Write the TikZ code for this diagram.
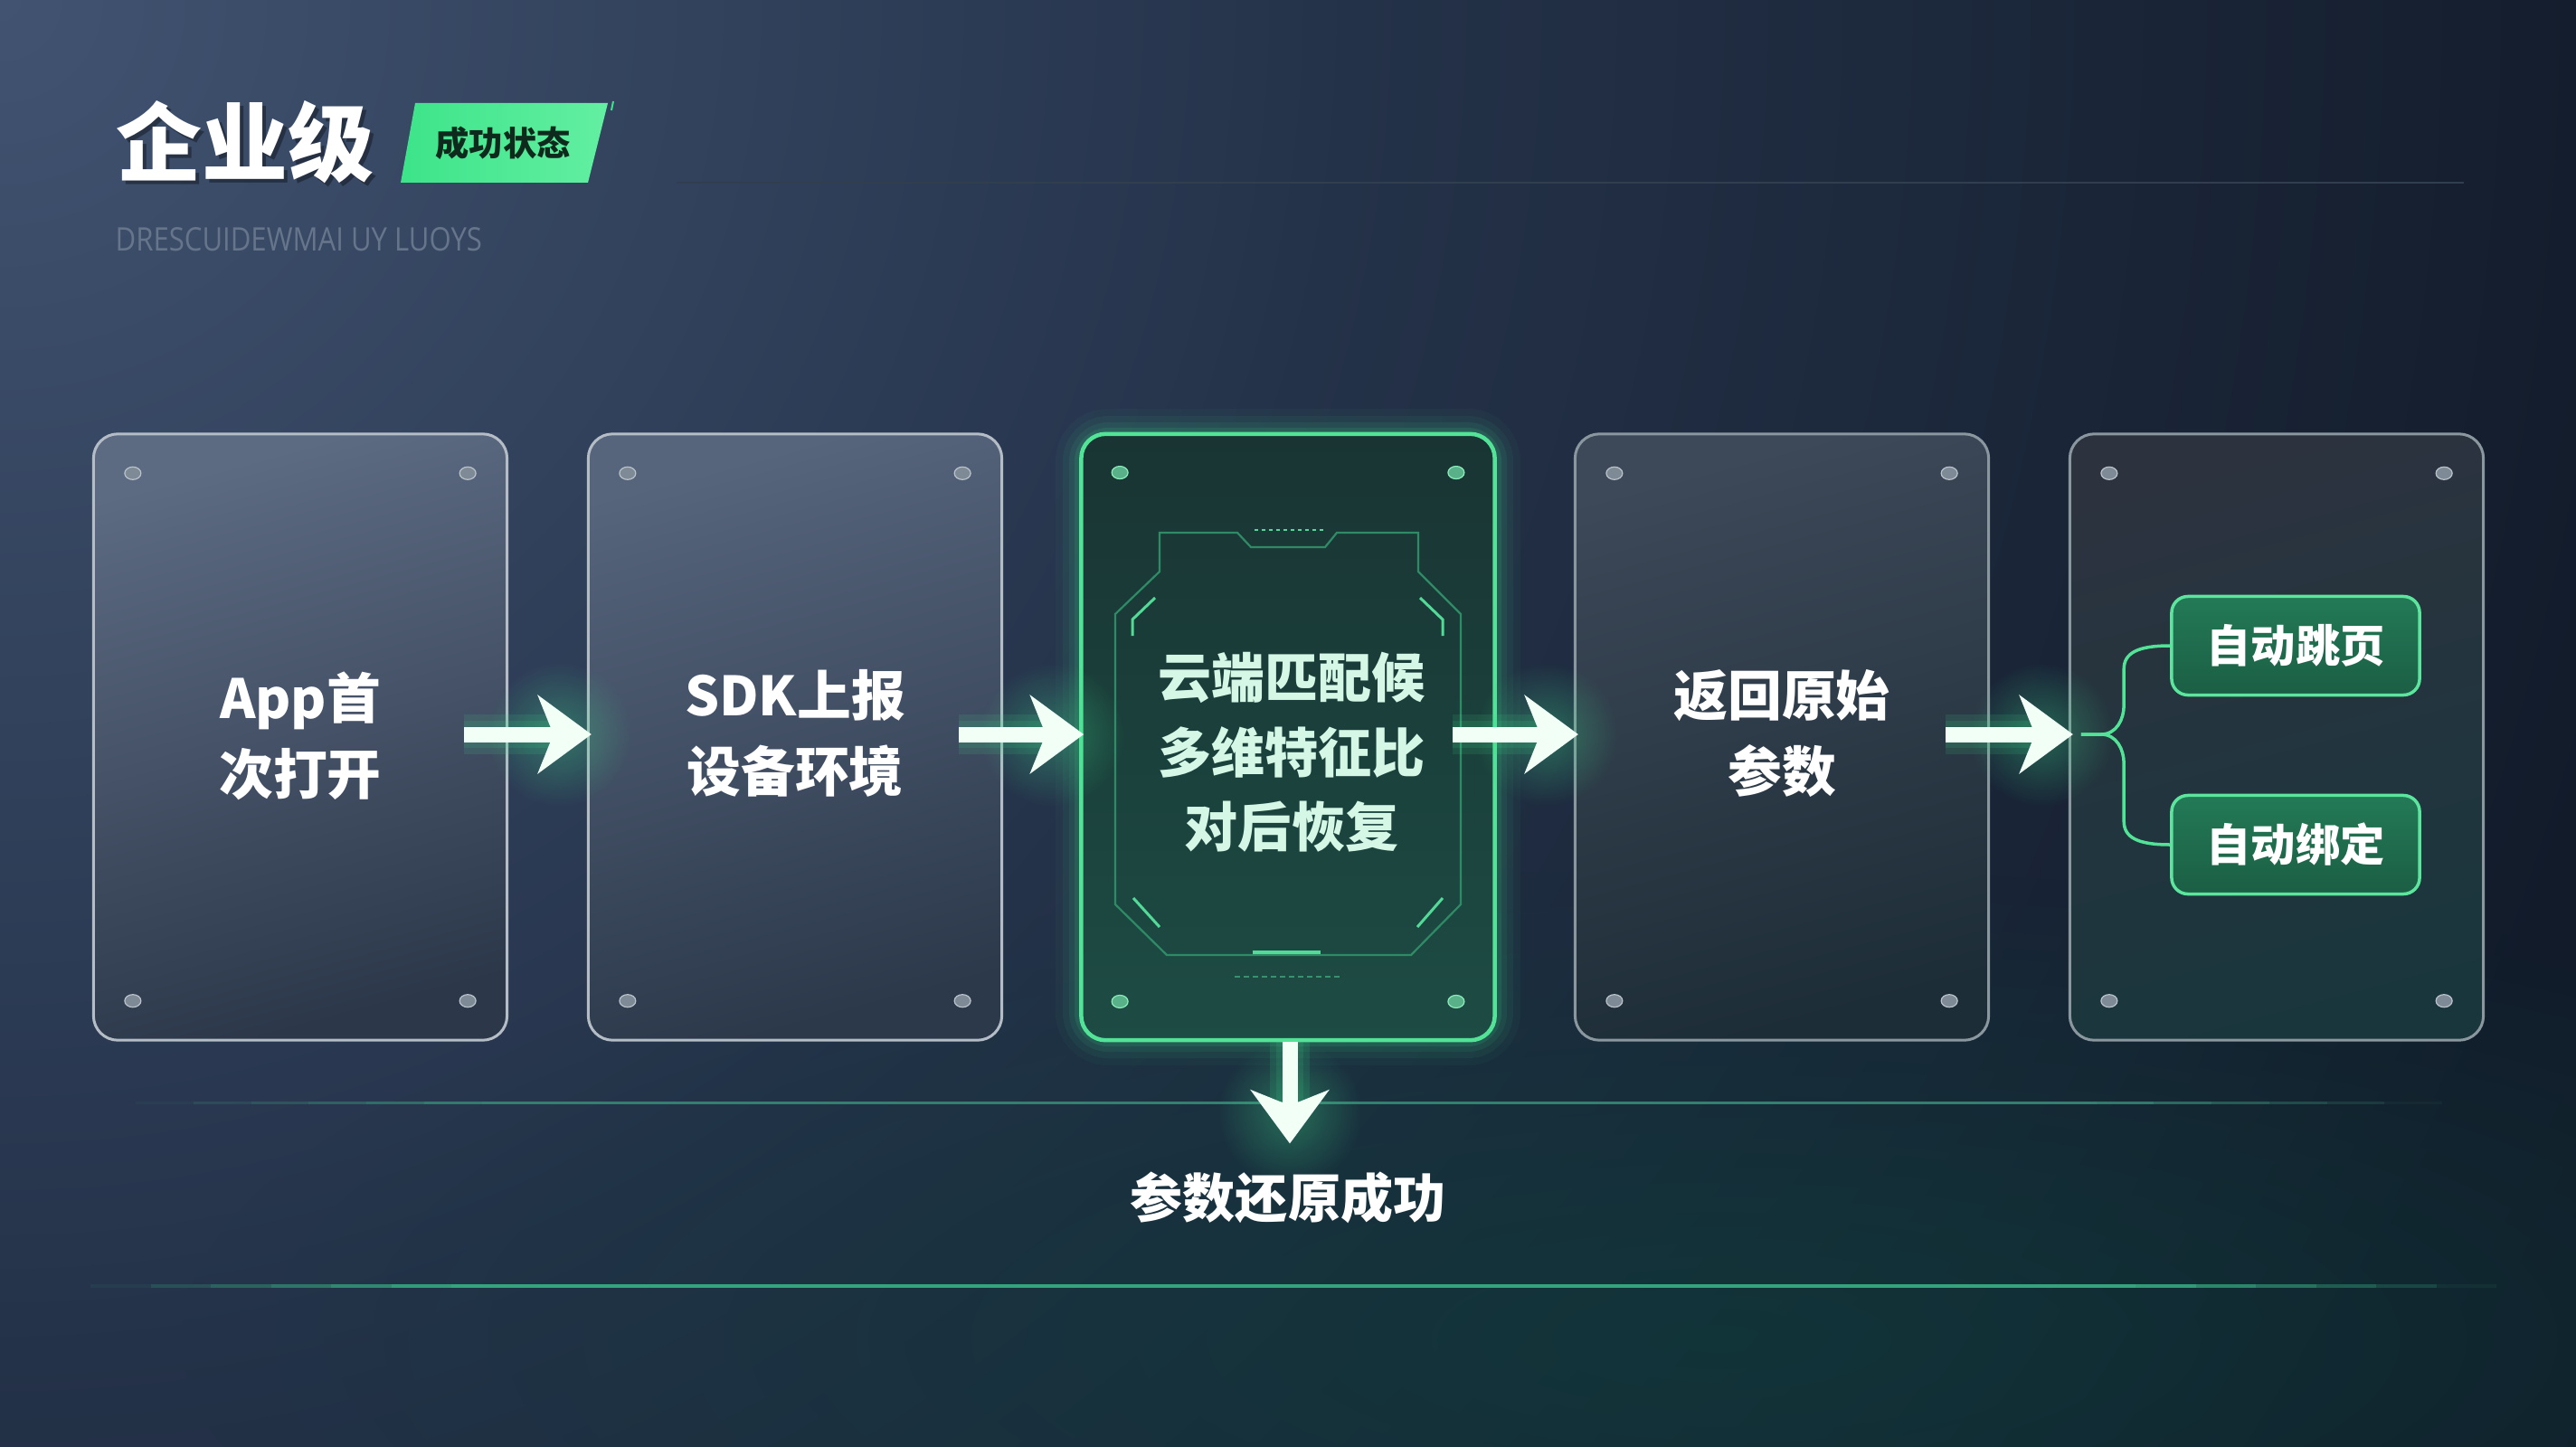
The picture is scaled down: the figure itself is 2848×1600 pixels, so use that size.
\documentclass[tikz,border=0pt]{standalone}
\usepackage{fontspec}
\setmainfont{Noto Sans CJK SC}
\newfontfamily\latinsans{Open Sans}
\usetikzlibrary{arrows.meta,calc,fadings}
\definecolor{bgdark}{HTML}{0A111C}
\definecolor{bgmid}{HTML}{243249}
\definecolor{bglow}{HTML}{121B2A}
\definecolor{bglight}{HTML}{415371}
\definecolor{tealglow}{HTML}{0F3A3A}
\definecolor{neon}{HTML}{3FE08C}
\definecolor{neonsoft}{HTML}{2E9E6C}
\definecolor{arrowwhite}{HTML}{F2FFF7}
\definecolor{cardedge}{HTML}{B4BDC6}
\definecolor{cardedgeb}{HTML}{8A979F}
\definecolor{hudline}{HTML}{2F8A66}
\definecolor{hudbright}{HTML}{52DA96}
\definecolor{dotfill}{HTML}{7E8A96}
\definecolor{dotedge}{HTML}{BAC3CC}
\definecolor{subA}{HTML}{237A56}
\definecolor{subB}{HTML}{1B5E45}
\definecolor{badgeA}{HTML}{3DE489}
\definecolor{badgeB}{HTML}{63EFA2}
\definecolor{badgetext}{HTML}{0E2A1C}
\definecolor{subtitle}{HTML}{67758A}
\definecolor{rule}{HTML}{313E50}
\definecolor{lineA}{HTML}{357F70}
\definecolor{lineB}{HTML}{34A47C}
\definecolor{cOneA}{HTML}{5C6A82}
\definecolor{cOneB}{HTML}{2C384A}
\definecolor{cTwoA}{HTML}{56647C}
\definecolor{cTwoB}{HTML}{2C394B}
\definecolor{cThrA}{HTML}{193433}
\definecolor{cThrB}{HTML}{1D4C44}
\definecolor{cFouA}{HTML}{3D4858}
\definecolor{cFouB}{HTML}{1D2D37}
\definecolor{cFivA}{HTML}{2C333F}
\definecolor{cFivB}{HTML}{1A363D}
\pgfdeclareradialshading{bgrad}{\pgfpoint{0bp}{0bp}}{color(0bp)=(bglight); color(11bp)=(bgmid); color(22bp)=(bglow); color(40bp)=(bgdark); color(50bp)=(bgdark)}
\tikzfading[name=softradial, inner color=transparent!0, outer color=transparent!100]
\newcommand\carddots[2]{%
  \foreach \p/\q in {north west/{45,45}, north east/{-45,45}, south west/{45,-45}, south east/{-45,-45}}
    {\fill[#2] ($(#1.\p)+(\q)$) ellipse (9 and 7);}}
\newcommand\fadeline[5]{%
  \pgfmathsetmacro\stp{(#2-#1)/40}%
  \foreach \i in {0,...,39}{%
    \pgfmathsetmacro\xa{#1+\stp*\i}%
    \pgfmathsetmacro\xb{#1+\stp*(\i+1)}%
    \pgfmathsetmacro\op{min(1,2.2*sin(180*(\i+0.5)/40))}%
    \draw[#4, line width=#5, opacity=\op] (\xa,#3) -- (\xb,#3);}}
\begin{document}
\begin{tikzpicture}[x=0.01cm,y=-0.01cm,
  card/.style={line width=0.03cm, rounded corners=0.27cm, minimum width=4.57cm, minimum height=6.70cm, inner sep=0pt},
  cardtext/.style={text=white, font=\fontsize{17}{24}\selectfont\bfseries, align=center},
  dot/.style={fill=dotfill, draw=dotedge, line width=0.012cm},
  gdot/.style={fill=neonsoft!80!white, draw=neon!60!white, line width=0.012cm},
  flowarrow/.style={line width=0.17cm, color=arrowwhite, -{Stealth[length=0.59cm, width=0.86cm, inset=0.17cm]}},
  flowglow/.style={line width=#1, color=neon, opacity=0.12},
  subbox/.style={draw=neon!85!white, line width=0.035cm, rounded corners=0.18cm, top color=subA, bottom color=subB, minimum width=2.74cm, minimum height=1.09cm, text=white, font=\fontsize{14}{16}\selectfont\bfseries},
  bracket/.style={draw=neon!90!white, line width=0.035cm}
]
\useasboundingbox (0,0) rectangle (2848,1600);
% background
\fill[bgdark] (0,0) rectangle (2848,1600);
\begin{scope}
  \clip (0,0) rectangle (2848,1600);
  \shade[shading=bgrad] (0,0) circle (3400);
  \fill[tealglow, opacity=0.75, path fading=softradial] (1900,1480) ellipse (1700 and 520);
\end{scope}
% title
\node[text=black, opacity=0.35, font=\fontsize{27}{30}\selectfont\bfseries] at (275,161) {企业级};
\node[text=white, font=\fontsize{27}{30}\selectfont\bfseries] (title) at (271,157) {企业级};
\shade[left color=badgeA, right color=badgeB] (459,114) -- (672,114) -- (650,202) -- (443,202) -- cycle;
\node[text=badgetext, font=\fontsize{10.6}{12}\selectfont\bfseries] (badge) at (556,158) {成功状态};
\draw[neon, line width=0.02cm] (678,112) -- (676,122);
\node[anchor=west, text=subtitle, inner sep=0pt] (sub) at (127,265) {\resizebox{4.05cm}{0.26cm}{\latinsans DRESCUIDEWMAI UY LUOYS}};
\draw[rule, line width=0.02cm] (748,202) -- (2724,202);
% bottom rules
\fadeline{150}{2700}{1219}{lineA}{0.03cm}
\fadeline{100}{2760}{1422}{lineB}{0.035cm}
% glow of middle card
\foreach \w/\o in {0.56/0.04,0.4/0.06,0.26/0.08,0.14/0.12}{
  \draw[neon, line width=\w cm, opacity=\o, rounded corners=0.3cm] (1195,480) rectangle (1653,1150);}
% cards
\node[card, draw=cardedge, top color=cOneA, bottom color=cOneB, shading angle=15] (c1) at (332,815) {};
\node[card, draw=cardedge, top color=cTwoA, bottom color=cTwoB, shading angle=15] (c2) at (879,815) {};
\node[card, draw=neon!90!white, line width=0.045cm, top color=cThrA, bottom color=cThrB] (c3) at (1424,815) {};
\node[card, draw=cardedgeb, top color=cFouA, bottom color=cFouB, shading angle=15] (c4) at (1970,815) {};
\node[card, draw=cardedgeb, top color=cFivA, bottom color=cFivB, shading angle=15] (c5) at (2517,815) {};
\carddots{c1}{dot}
\carddots{c2}{dot}
\carddots{c3}{gdot}
\carddots{c4}{dot}
\carddots{c5}{dot}
% HUD frame in middle card
\draw[hudline, line width=0.022cm] (1282,589) -- (1368,589) -- (1383,605) -- (1465,605) -- (1478,589) -- (1568,589)
  -- (1568,632) -- (1615,679) -- (1615,1000) -- (1560,1056) -- (1290,1056) -- (1233,1000) -- (1233,679) -- (1282,632) -- cycle;
\draw[hudbright, line width=0.015cm, dash pattern=on 0.04cm off 0.04cm] (1387,586) -- (1467,586);
\draw[hudbright, line width=0.03cm] (1277,661) -- (1252,685) -- (1252,703);
\draw[hudbright, line width=0.03cm] (1570,661) -- (1595,685) -- (1595,703);
\draw[hudbright, line width=0.03cm] (1253,993) -- (1282,1025);
\draw[hudbright, line width=0.03cm] (1595,993) -- (1567,1025);
\draw[hudbright, line width=0.035cm] (1385,1053) -- (1460,1053);
\draw[hudbright, line width=0.012cm, dash pattern=on 0.06cm off 0.04cm, opacity=0.5] (1365,1080) -- (1482,1080);
% card texts
\node[cardtext] (t1) at (332,814) {App首\\次打开};
\node[cardtext] (t2) at (879,811) {SDK上报\\设备环境};
\node[text=neon!22!white, font=\fontsize{16.8}{23.5}\selectfont\bfseries, align=center] (t3) at (1428,832) {云端匹配候\\多维特征比\\对后恢复};
\node[cardtext] (t4) at (1970,811) {返回原始\\参数};
% sub boxes
\node[subbox] (b1) at (2538,714) {自动跳页};
\node[subbox] (b2) at (2538,934) {自动绑定};
% arrows
\foreach \a/\b in {c1/c2,c2/c3,c3/c4,c4/c5}{
  \coordinate (s\a) at ($(\a.east)+(-49,-3)$);
  \coordinate (e\a) at ($(\b.west)+(5,-3)$);
  \coordinate (g\a) at ($(\b.west)+(-30,-3)$);
  \fill[neon, opacity=0.35, path fading=softradial] (g\a) circle (80);
  \foreach \w in {0.44,0.3}{\draw[flowglow=\w cm] (s\a) -- (g\a);}
  \draw[flowarrow] (s\a) -- (e\a);
}
\coordinate (dtip) at ($(c3.south)+(2,112)$);
\coordinate (dstart) at ($(c3.south)+(2,0)$);
\coordinate (dglow) at ($(c3.south)+(2,78)$);
\fill[neon, opacity=0.35, path fading=softradial] (dglow) circle (80);
\foreach \w in {0.44,0.3}{\draw[flowglow=\w cm] (dstart) -- (dglow);}
\draw[flowarrow] (dstart) -- (dtip);
\node[text=white, font=\fontsize{16.5}{20}\selectfont\bfseries] (res) at (1424,1324) {参数还原成功};
% bracket
\coordinate (br) at ($(c5.west)+(14,-3)$);
\draw[bracket] (br) -- ++(22,0) .. controls ($(b1.west)+(-59,98)$) and ($(b1.west)+(-51,81)$) .. ($(b1.west)+(-51,66)$)
  -- ($(b1.west)+(-51,26)$) .. controls ($(b1.west)+(-51,8)$) and ($(b1.west)+(-36,0)$) .. (b1.west);
\draw[bracket] (br) -- ++(22,0) .. controls ($(b2.west)+(-59,-122)$) and ($(b2.west)+(-51,-105)$) .. ($(b2.west)+(-51,-90)$)
  -- ($(b2.west)+(-51,-26)$) .. controls ($(b2.west)+(-51,-8)$) and ($(b2.west)+(-36,0)$) .. (b2.west);
\end{tikzpicture}
\end{document}
